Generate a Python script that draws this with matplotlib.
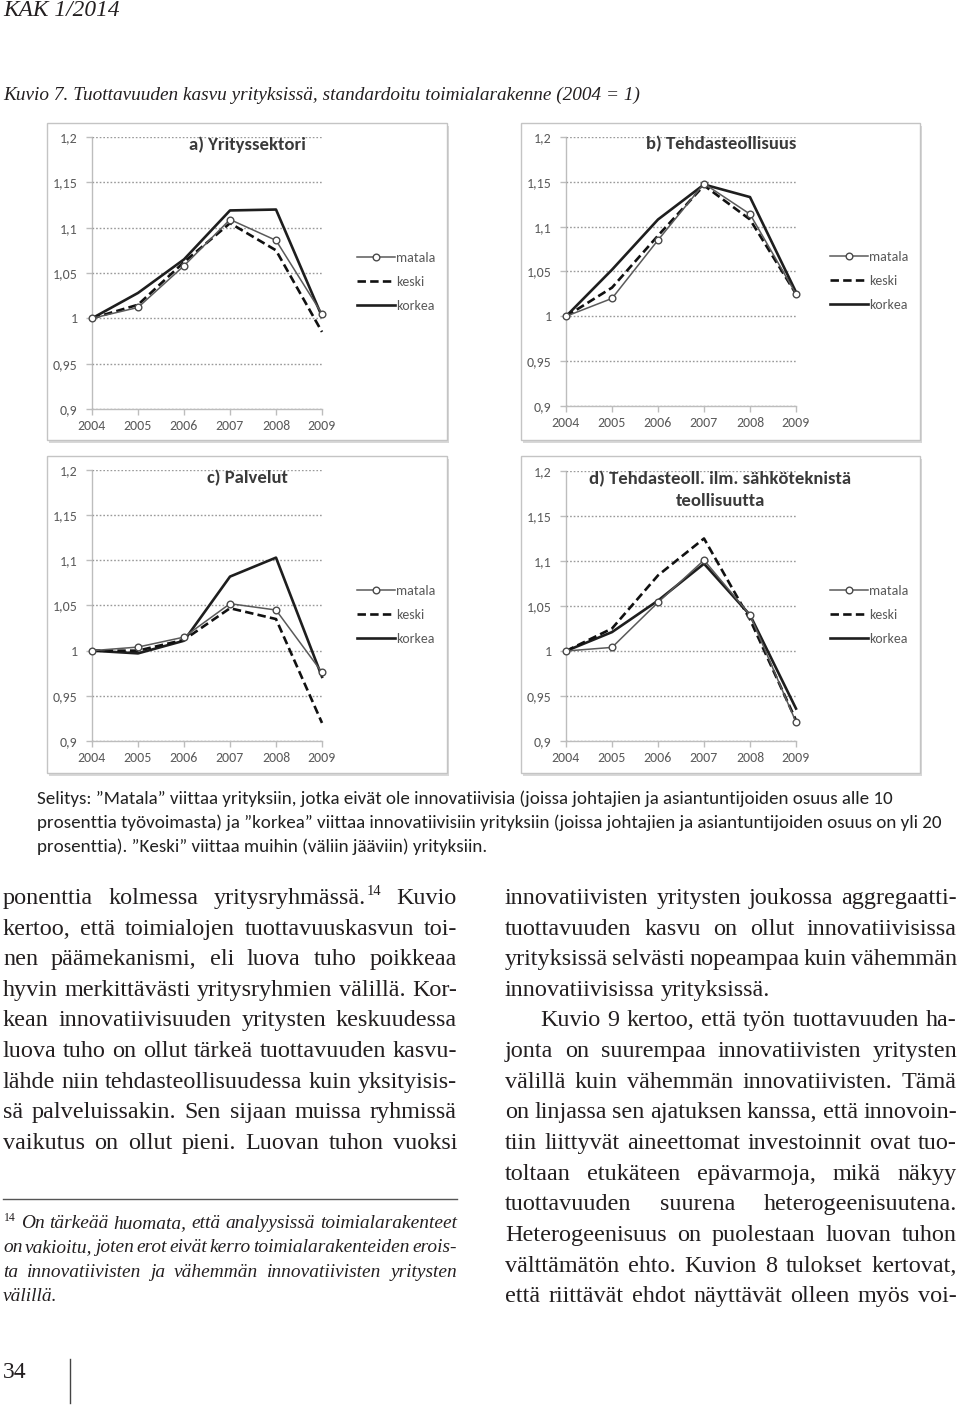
import matplotlib
matplotlib.use("Agg")
import matplotlib.pyplot as plt
from matplotlib import font_manager
from matplotlib.patches import Rectangle
from matplotlib.lines import Line2D

W, H = 960, 1408

# ---------------- data ----------------
years = [2004, 2005, 2006, 2007, 2008, 2009]
series_names = ["matala", "keski", "korkea"]

a_matala = [1.000, 1.012, 1.058, 1.109, 1.086, 1.005]
a_keski = [1.000, 1.015, 1.062, 1.105, 1.075, 0.985]
a_korkea = [1.000, 1.028, 1.065, 1.119, 1.120, 1.002]

b_matala = [1.000, 1.020, 1.085, 1.148, 1.114, 1.025]
b_keski = [1.000, 1.032, 1.090, 1.146, 1.108, 1.025]
b_korkea = [1.000, 1.052, 1.108, 1.147, 1.133, 1.027]

c_matala = [1.000, 1.004, 1.015, 1.052, 1.045, 0.976]
c_keski = [1.000, 1.000, 1.012, 1.047, 1.035, 0.920]
c_korkea = [1.000, 0.997, 1.011, 1.082, 1.103, 0.971]

d_matala = [1.000, 1.004, 1.054, 1.101, 1.040, 0.921]
d_keski = [1.000, 1.025, 1.084, 1.125, 1.035, 0.923]
d_korkea = [1.000, 1.021, 1.056, 1.097, 1.040, 0.936]

y_ticks = [0.9, 0.95, 1.0, 1.05, 1.1, 1.15, 1.2]
y_tick_labels = ["0,9", "0,95", "1", "1,05", "1,1", "1,15", "1,2"]

panel_titles = {
    "a": ["a) Yrityssektori"],
    "b": ["b) Tehdasteollisuus"],
    "c": ["c) Palvelut"],
    "d": ["d) Tehdasteoll. ilm. sähköteknistä", "teollisuutta"],
}

header_text = "KAK 1/2014"
caption_text = "Kuvio 7. Tuottavuuden kasvu yrityksissä, standardoitu toimialarakenne (2004 = 1)"
selitys_lines = [
    "Selitys: \u201dMatala\u201d viittaa yrityksiin, jotka eivät ole innovatiivisia (joissa johtajien ja asiantuntijoiden osuus alle 10",
    "prosenttia työvoimasta) ja \u201dkorkea\u201d viittaa innovatiivisiin yrityksiin (joissa johtajien ja asiantuntijoiden osuus on yli 20",
    "prosenttia). \u201dKeski\u201d viittaa muihin (väliin jääviin) yrityksiin.",
]
left_col = [
    "ponenttia kolmessa yritysryhmässä.^14 Kuvio",
    "kertoo, että toimialojen tuottavuuskasvun toi-",
    "nen päämekanismi, eli luova tuho poikkeaa",
    "hyvin merkittävästi yritysryhmien välillä. Kor-",
    "kean innovatiivisuuden yritysten keskuudessa",
    "luova tuho on ollut tärkeä tuottavuuden kasvu-",
    "lähde niin tehdasteollisuudessa kuin yksityisis-",
    "sä palveluissakin. Sen sijaan muissa ryhmissä",
    "vaikutus on ollut pieni. Luovan tuhon vuoksi",
]
right_col = [
    "innovatiivisten yritysten joukossa aggregaatti-",
    "tuottavuuden kasvu on ollut innovatiivisissa",
    "yrityksissä selvästi nopeampaa kuin vähemmän",
    "innovatiivisissa yrityksissä.",
    "Kuvio 9 kertoo, että työn tuottavuuden ha-",
    "jonta on suurempaa innovatiivisten yritysten",
    "välillä kuin vähemmän innovatiivisten. Tämä",
    "on linjassa sen ajatuksen kanssa, että innovoin-",
    "tiin liittyvät aineettomat investoinnit ovat tuo-",
    "toltaan etukäteen epävarmoja, mikä näkyy",
    "tuottavuuden suurena heterogeenisuutena.",
    "Heterogeenisuus on puolestaan luovan tuhon",
    "välttämätön ehto. Kuvion 8 tulokset kertovat,",
    "että riittävät ehdot näyttävät olleen myös voi-",
]
footnote_lines = [
    "^14 On tärkeää huomata, että analyysissä toimialarakenteet",
    "on vakioitu, joten erot eivät kerro toimialarakenteiden erois-",
    "ta innovatiivisten ja vähemmän innovatiivisten yritysten",
    "välillä.",
]
page_number = "34"

# ---------------- fonts ----------------
names = set(f.name for f in font_manager.fontManager.ttflist)
SANS = "Carlito" if "Carlito" in names else ("Lato" if "Lato" in names else "DejaVu Sans")
SERIF = "Liberation Serif" if "Liberation Serif" in names else "DejaVu Serif"

fig = plt.figure(figsize=(W / 100, H / 100), dpi=100)
fig.patch.set_facecolor("white")
renderer = fig.canvas.get_renderer()


def fx(x):
    return x / W


def fy(y):
    return 1 - y / H


def text_width(s, **kw):
    t = fig.text(0, 0, s, **kw)
    w = t.get_window_extent(renderer).width
    t.remove()
    return w


def fit_size(s, target, **kw):
    w = text_width(s, fontsize=10, **kw)
    return 10 * target / w


# ---------------- charts ----------------
panels = [
    ("a", (a_matala, a_keski, a_korkea), (47, 123, 447, 440), (92, 322, 137, 409),
     [(247, 145)], (357, 282)),
    ("b", (b_matala, b_keski, b_korkea), (521, 123, 920, 440), (566, 796, 137, 406),
     [(721, 144)], (830, 281)),
    ("c", (c_matala, c_keski, c_korkea), (47, 456, 447, 773), (92, 322, 470, 741),
     [(247, 478)], (357, 615)),
    ("d", (d_matala, d_keski, d_korkea), (521, 456, 920, 773), (566, 796, 471, 741),
     [(720, 479), (721, 501)], (830, 615)),
]

styles = {
    "matala": dict(color="#5a5a5a", lw=1.1, marker="o", ms=4.8, mfc="white", mec="#4a4a4a", mew=1.0),
    "keski": dict(color="#111111", lw=1.9, dashes=(3.2, 1.6)),
    "korkea": dict(color="#1e1e1e", lw=1.9),
}

title_size = fit_size("a) Yrityssektori", 117, family=SANS, fontweight="bold")

for key, data, box, plot, tpos, leg in panels:
    x0, y0, x1, y1 = box
    shadow = Rectangle((fx(x0 + 2), fy(y1 + 3)), (x1 - x0) / W, (y1 - y0) / H,
                       transform=fig.transFigure, fc="#d8d8d8", ec="none", zorder=0.3)
    frame = Rectangle((fx(x0), fy(y1)), (x1 - x0) / W, (y1 - y0) / H,
                      transform=fig.transFigure, fc="white", ec="#c4c4c4", lw=1.0, zorder=0.4)
    fig.add_artist(shadow)
    fig.add_artist(frame)

    L, R, T, B = plot
    ax = fig.add_axes([fx(L), fy(B), (R - L) / W, (B - T) / H])
    ax.set_zorder(1)
    ax.patch.set_alpha(0)
    ax.set_xlim(2004, 2009)
    ax.set_ylim(0.9, 1.2)
    for nm, vals in zip(["korkea", "keski", "matala"], [data[2], data[1], data[0]]):
        ax.plot(years, vals, label=nm, clip_on=False, **styles[nm])
    ax.set_yticks(y_ticks)
    ax.set_yticklabels(y_tick_labels)
    ax.set_xticks(years)
    ax.set_xticklabels([str(y) for y in years])
    for sp in ["top", "right"]:
        ax.spines[sp].set_visible(False)
    for sp in ["left", "bottom"]:
        ax.spines[sp].set_color("#bdbdbd")
        ax.spines[sp].set_linewidth(1.0)
        ax.spines[sp].set_zorder(0.5)
    ax.tick_params(axis="both", direction="out", length=4, width=1, color="#bdbdbd",
                   labelcolor="#5a5a5a", labelsize=10)
    ax.tick_params(axis="x", pad=4.0)
    ax.tick_params(axis="y", pad=6.5)
    for lab in ax.get_xticklabels() + ax.get_yticklabels():
        lab.set_family(SANS)
    ax.yaxis.grid(True, linestyle=(0, (1.2, 1.4)), color="#9a9a9a", lw=1.0, zorder=0)
    ax.set_axisbelow(True)

    for line_txt, (tx, ty) in zip(panel_titles[key], tpos):
        fig.text(fx(tx), fy(ty), line_txt, ha="center", va="center", family=SANS,
                 fontweight="bold", fontsize=title_size, color="#3a3a3a", zorder=3)

    handles = [Line2D([], [], **styles[n]) for n in series_names]
    lg = ax.legend(handles, series_names, loc="center left",
                   bbox_to_anchor=(fx(leg[0]), fy(leg[1])), bbox_transform=fig.transFigure,
                   frameon=False, handlelength=2.7, handletextpad=0.1, labelspacing=0.85,
                   borderpad=0, borderaxespad=0, numpoints=1,
                   prop={"family": SANS, "size": 10})
    for t in lg.get_texts():
        t.set_color("#5a5a5a")

# ---------------- page text ----------------
INK = "#231f20"

fig.text(fx(3), fy(10), header_text, ha="left", va="center", family=SERIF, style="italic",
         fontsize=fit_size(header_text, 117, family=SERIF, style="italic"), color=INK)
fig.text(fx(3), fy(95), caption_text, ha="left", va="center", family=SERIF, style="italic",
         fontsize=fit_size(caption_text, 638, family=SERIF, style="italic"), color=INK)

sel_size = fit_size(selitys_lines[0], 860, family=SANS)
for i, s in enumerate(selitys_lines):
    fig.text(fx(37), fy(799 + 24 * i), s, ha="left", va="center", family=SANS,
             fontsize=sel_size, color="#222222")


def word_parts(w):
    if "^" in w:
        m, s = w.split("^", 1)
        return m, s
    return w, ""


def word_width(w, size, style):
    m, s = word_parts(w)
    wd = 0
    if m:
        wd += text_width(m, family=SERIF, style=style, fontsize=size)
    if s:
        wd += text_width(s, family=SERIF, style="normal", fontsize=size * 0.6) + 1
    return wd


def draw_word(w, x, yb, size, style):
    m, s = word_parts(w)
    if m:
        fig.text(fx(x), fy(yb), m, ha="left", va="baseline", family=SERIF, style=style,
                 fontsize=size, color=INK)
        x += text_width(m, family=SERIF, style=style, fontsize=size)
    if s:
        fig.text(fx(x + 1), fy(yb - size * 100 / 72 * 0.38), s, ha="left", va="baseline",
                 family=SERIF, style="normal", fontsize=size * 0.6, color=INK)


def draw_block(lines, x0, x1, ybases, size, style, left_lines=(), indents=None):
    indents = indents or {}
    space = text_width("a a", family=SERIF, style=style, fontsize=size) - \
        text_width("aa", family=SERIF, style=style, fontsize=size)
    for i, (ln, yb) in enumerate(zip(lines, ybases)):
        words = ln.split(" ")
        start = x0 + indents.get(i, 0)
        widths = [word_width(w, size, style) for w in words]
        if i in left_lines or len(words) == 1:
            gap = space
        else:
            gap = (x1 - start - sum(widths)) / (len(words) - 1)
        x = start
        for w, wd in zip(words, widths):
            draw_word(w, x, yb, size, style)
            x += wd + gap


def natural_max(lines, size, style, width_avail, indents=None):
    indents = indents or {}
    best = 0
    for i, ln in enumerate(lines):
        words = ln.split(" ")
        sp = text_width("a a", family=SERIF, style=style, fontsize=size) - \
            text_width("aa", family=SERIF, style=style, fontsize=size)
        w = sum(word_width(x, size, style) for x in words) + sp * 0.55 * (len(words) - 1)
        best = max(best, (w + indents.get(i, 0)) / width_avail)
    return best


body_size = 15.0
ratio = max(natural_max(left_col, body_size, "normal", 454),
            natural_max(right_col, body_size, "normal", 452, {4: 35}))
body_size = body_size / ratio * 0.995

left_y = [898, 929, 959, 990, 1020, 1051, 1082, 1112, 1143]
right_y = [898, 929, 959, 990, 1020, 1051, 1082, 1112, 1143, 1174, 1204, 1235, 1266, 1296]
draw_block(left_col, 3, 457, [y + 6 for y in left_y], body_size, "normal")
draw_block(right_col, 505, 957, [y + 6 for y in right_y], body_size, "normal",
           left_lines=(3,), indents={4: 35})

# footnote
fig.add_artist(Line2D([fx(3), fx(457)], [fy(1199), fy(1199)], transform=fig.transFigure,
                      color="#555555", lw=1.0))
fn_size = 13.0
fn_ratio = natural_max(footnote_lines[:3], fn_size, "italic", 454)
fn_size = fn_size / fn_ratio * 0.995
fn_y = [1223, 1247, 1272, 1296]
draw_block(footnote_lines, 3, 457, [y + 5 for y in fn_y], fn_size, "italic", left_lines=(3,))

# page number
fig.text(fx(3), fy(1373), page_number, ha="left", va="center", family=SERIF, fontsize=17,
         color=INK)
fig.add_artist(Line2D([fx(70), fx(70)], [fy(1359), fy(1403)], transform=fig.transFigure,
                      color="#444444", lw=1.0))

fig.savefig("out.png", dpi=100, facecolor="white")
